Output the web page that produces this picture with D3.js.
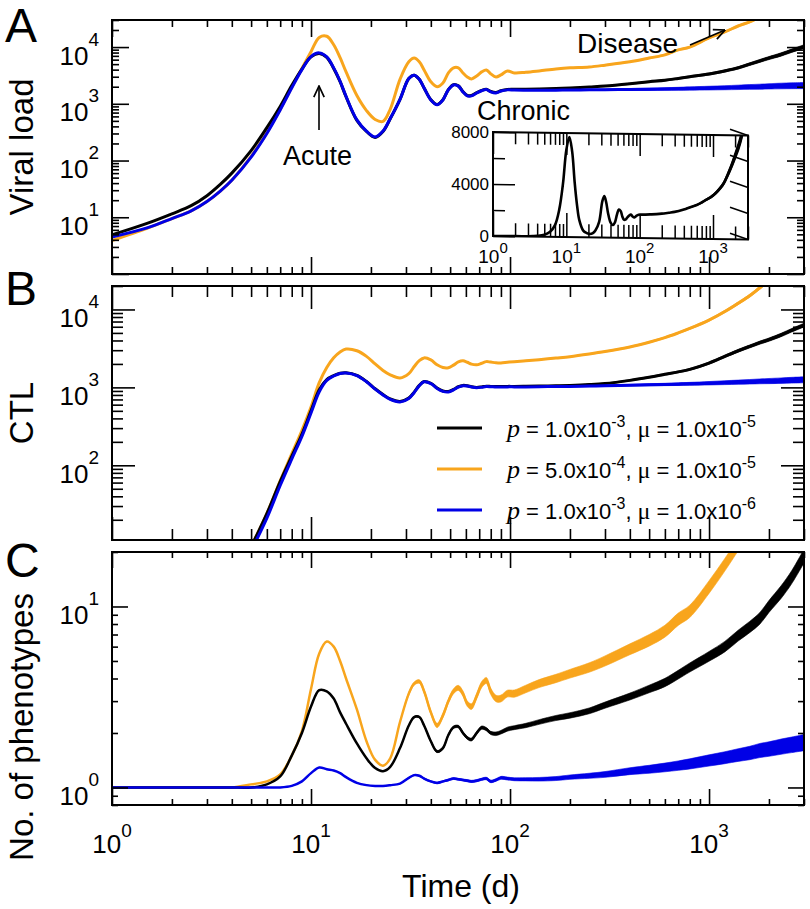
<!DOCTYPE html>
<html><head><meta charset="utf-8">
<script src="https://cdn.jsdelivr.net/npm/d3@7"></script>
<style>
body{margin:0;background:#fff;}
svg{display:block;font-family:"Liberation Sans",Arial,Helvetica,sans-serif;}
text{white-space:pre;}
</style></head><body>
<svg id="chart" width="810" height="909"></svg>
<script>
// ---------------- DATA ----------------
const time = [1,1.5,2,2.5,3,3.5,4,5,6,7,8,9,10,11,12,13,14,15,17,19,21,23,25,28,31,33,35,37,40,43,46,49,52,55,58,61,64,68,72,76,80,85,90,97,105,120,140,170,200,250,300,400,500,600,700,800,1000,1200,1400,1600,1800,2000,2300,2600,3000];

// Panel A: viral load
const viralBlack  = [4.9,7.8,11.5,16,24,38,60,150,380,900,2100,4100,6700,7700,6600,4200,2450,1330,510,325,255,325,545,1200,2800,3200,2700,1900,1180,970,1180,1780,2170,2070,1640,1400,1400,1570,1720,1800,1650,1580,1700,1790,1800,1810,1830,1860,1900,1980,2050,2250,2450,2600,2800,3000,3350,3800,4300,5000,5700,6400,7400,8600,10200];
const viralOrange = [3.9,6.4,9.5,13,19,29,45,118,310,800,1950,4200,8300,14800,15500,11000,6500,3650,1400,760,530,490,800,2700,5500,6400,5500,3950,2450,2000,2330,3500,4300,4300,3500,2970,2750,3100,3650,3950,3370,2970,3230,3800,3500,3600,3800,4100,4300,4460,4800,5500,6400,7300,8900,10000,14500,18500,23500,27800,34000,null,null,null,null];
const viralBlue   = [4.5,6.5,9.5,13,19,29,45,115,300,780,1900,4000,6800,7900,6700,4300,2500,1350,520,330,260,330,550,1200,2800,3200,2700,1900,1170,960,1170,1770,2150,2050,1620,1380,1380,1550,1700,1780,1620,1550,1680,1760,1750,1740,1740,1740,1750,1760,1770,1790,1800,1820,1840,1860,1890,1920,1950,1980,2000,2030,2060,2080,2100];

// Panel B: CTL
const ctlBlack  = [null,null,null,null,null,null,null,9,24,62,130,250,500,930,1260,1420,1520,1540,1430,1190,960,810,710,660,730,870,1060,1190,1130,980,900,885,940,1020,1060,1050,1020,1000,1015,1035,1030,1025,1025,1030,1030,1035,1040,1050,1060,1085,1120,1230,1350,1470,1580,1700,2050,2500,2950,3350,3750,4100,4700,5400,6300];
const ctlOrange = [null,null,null,null,null,null,null,9,24,63,140,280,560,1150,1800,2400,2850,3100,2950,2500,2000,1650,1450,1320,1500,1850,2200,2390,2250,1950,1800,1790,1930,2120,2190,2100,1990,1950,2040,2140,2110,2070,2060,2100,2140,2200,2270,2380,2480,2680,2880,3300,3800,4350,5000,5700,7300,9400,12000,15000,19000,23500,null,null,null];
const ctlBlue   = [null,null,null,null,null,null,null,8,21,55,120,235,470,880,1230,1400,1510,1530,1420,1180,950,800,700,650,720,860,1050,1180,1120,970,890,875,930,1010,1050,1040,1010,990,1005,1025,1020,1010,1010,1015,1015,1015,1020,1025,1030,1040,1050,1065,1080,1090,1100,1110,1130,1150,1165,1180,1195,1205,1220,1235,1250];

// Panel C: number of phenotypes
const phenoBlack  = [1,1,1,1,1,1,1,1,1.04,1.15,1.5,2.0,2.8,3.45,3.4,3.1,2.6,2.25,1.75,1.45,1.28,1.23,1.3,1.65,2.2,2.45,2.45,2.2,1.8,1.58,1.65,1.95,2.15,2.17,2.0,1.88,1.84,2.0,2.14,2.1,2.0,1.98,2.02,2.1,2.14,2.2,2.3,2.42,2.5,2.65,2.85,3.18,3.5,3.8,4.2,4.6,5.3,6.0,6.9,7.7,8.6,10.0,12.0,14.5,19.0];
const phenoOrange = [1,1,1,1,1,1,1,1.04,1.08,1.18,1.5,2.05,3.5,5.5,6.4,6.0,5.0,4.0,2.7,1.8,1.42,1.32,1.45,2.3,3.3,3.75,3.85,3.4,2.6,2.2,2.5,3.0,3.4,3.55,3.3,2.9,2.8,3.2,3.7,3.9,3.4,3.1,3.1,3.3,3.3,3.5,3.75,4.0,4.25,4.6,5.0,5.8,6.5,7.3,8.5,9.4,12.8,17.0,22.0,null,null,null,null,null,null];
const phenoBlue   = [1,1,1,1,1,1,1,1,1,1,1.02,1.08,1.2,1.29,1.26,1.24,1.2,1.14,1.06,1.03,1.02,1.02,1.03,1.05,1.13,1.17,1.16,1.12,1.08,1.06,1.08,1.1,1.12,1.11,1.1,1.09,1.08,1.09,1.11,1.12,1.08,1.1,1.13,1.12,1.11,1.11,1.11,1.12,1.14,1.16,1.18,1.23,1.26,1.29,1.32,1.35,1.41,1.46,1.51,1.55,1.6,1.63,1.68,1.72,1.77];

// Stochastic spread (half-width of the noisy band, in 1/1000 decades)
const z = n => new Array(n).fill(0);
const spreadViralBlack  = z(43).concat([3,4,4,5,5,6,7,8,10,12,13,14,15,18,20,22,24,26,27,29,30,32]);
const spreadViralOrange = z(43).concat([3,4,4,5,5,6,7,8,9,10,11,12,13,14,15,16,17,18,0,0,0,0]);
const spreadViralBlue   = z(43).concat([5,6,7,8,9,10,12,14,17,20,23,26,29,33,36,39,42,45,47,50,52,55]);
const spreadCtlBlack    = z(43).concat([3,3,4,4,5,5,6,7,8,9,10,11,12,14,16,18,19,20,21,22,23,24]);
const spreadCtlOrange   = z(43).concat([3,3,4,4,5,5,6,7,8,9,10,11,12,14,16,18,19,20,21,0,0,0]);
const spreadCtlBlue     = z(43).concat([4,4,5,5,6,7,8,9,11,13,15,17,19,22,25,27,29,31,33,35,37,38]);
const spreadPhenoBlack  = z(24).concat([4,4,5,5,5,6,6,6,7,7,7,8,8,8,9,9,9,10,10,11,11,12,13,14,15,16,17,19,21,23,24,25,27,29,30,31,32,33,35,36,38]);
const spreadPhenoOrange = z(24).concat([8,9,10,11,11,12,13,13,14,14,15,15,16,16,17,17,18,18,19,19,20,21,22,23,24,26,28,30,32,33,34,34,35,35,35,0,0,0,0,0,0]);
const spreadPhenoBlue   = z(24).concat([3,3,3,4,4,4,4,5,5,5,5,6,6,6,6,7,7,7,8,8,8,9,10,11,12,14,16,19,22,24,26,28,31,33,35,37,39,40,42,43,45]);

const xTickLabels = [1,10,100,1000];
const insetYTicks = [0,2000,4000,6000,8000];
const insetYLabels = [0,4000,8000];
const legendP     = ["1.0x10","5.0x10","1.0x10"];
const legendPExp  = ["-3","-4","-3"];
const legendMu    = ["1.0x10","1.0x10","1.0x10"];
const legendMuExp = ["-5","-5","-6"];
const COLORS = {black:"#000000", orange:"#f8a51d", blue:"#0000e6"};

// ---------------- DRAW ----------------
const svg = d3.select("#chart");
const L = 112, R = 804;
const x = d3.scaleLog().domain([1,3000]).range([L,R]);
const CURVE = d3.curveCatmullRom.alpha(0.5);

function majorTicks(d){const a=[];for(let e=-3;e<=6;e++){const v=Math.pow(10,e);if(v>=d[0]*0.9999&&v<=d[1]*1.0001)a.push(v);}return a;}
function minorTicks(d){const a=[];for(let e=-3;e<=6;e++)for(let m=2;m<=9;m++){const v=m*Math.pow(10,e);if(v>=d[0]*0.9999&&v<=d[1]*1.0001)a.push(v);}return a;}

const defs = svg.append("defs");
defs.append("marker").attr("id","arrow").attr("viewBox","0 0 10 10").attr("refX",9.5).attr("refY",5)
  .attr("markerWidth",13).attr("markerHeight",13).attr("markerUnits","userSpaceOnUse").attr("orient","auto")
  .append("path").attr("d","M1,1 L9.5,5 L1,9").attr("fill","none").attr("stroke","#000").attr("stroke-width",1.3);

const panels = [
  {id:"A", top:20, bottom:274, domain:[1,30000], labels:[10,100,1000,10000], title:"Viral load", titleY:147, letterY:42, major:17, minor:7, lw:3,
   series:[{v:viralOrange,s:spreadViralOrange,c:COLORS.orange},{v:viralBlack,s:spreadViralBlack,c:COLORS.black},{v:viralBlue,s:spreadViralBlue,c:COLORS.blue}]},
  {id:"B", top:286, bottom:540, domain:[11,20000], labels:[100,1000,10000], title:"CTL", titleY:413, letterY:305, major:23, minor:11, lw:3,
   series:[{v:ctlOrange,s:spreadCtlOrange,c:COLORS.orange},{v:ctlBlack,s:spreadCtlBlack,c:COLORS.black},{v:ctlBlue,s:spreadCtlBlue,c:COLORS.blue}]},
  {id:"C", top:552, bottom:805, domain:[0.8,20], labels:[1,10], title:"No. of phenotypes", titleY:727, letterY:577, major:16, minor:6, lw:2.5,
   series:[{v:phenoOrange,s:spreadPhenoOrange,c:COLORS.orange},{v:phenoBlack,s:spreadPhenoBlack,c:COLORS.black},{v:phenoBlue,s:spreadPhenoBlue,c:COLORS.blue}]}
];

const xMajor = majorTicks(x.domain()), xMinor = minorTicks(x.domain());

panels.forEach(p=>{
  const y = d3.scaleLog().domain(p.domain).range([p.bottom,p.top]);
  const g = svg.append("g");
  defs.append("clipPath").attr("id","clip"+p.id).append("rect")
    .attr("x",L).attr("y",p.top).attr("width",R-L).attr("height",p.bottom-p.top);
  const plot = g.append("g").attr("clip-path",`url(#clip${p.id})`);
  p.series.forEach(s=>{
    const pts = time.map((t,i)=>({t, v:s.v[i], n:s.s[i]||0})).filter(d=>d.v!=null);
    const area = d3.area().x(d=>x(d.t)).y0(d=>y(d.v*Math.pow(10,-d.n/1000))).y1(d=>y(d.v*Math.pow(10,d.n/1000))).curve(CURVE);
    plot.append("path").attr("d",area(pts)).attr("fill",s.c).attr("stroke",s.c).attr("stroke-width",0.6);
    const line = d3.line().x(d=>x(d.t)).y(d=>y(d.v)).curve(CURVE);
    plot.append("path").attr("d",line(pts)).attr("fill","none").attr("stroke",s.c)
      .attr("stroke-width",p.lw).attr("stroke-linejoin","round").attr("stroke-linecap","round");
  });
  const yMajor = majorTicks(p.domain), yMinor = minorTicks(p.domain);
  const axes = [
    [d3.axisBottom(x), xMajor, p.major, `translate(0,${p.bottom})`],
    [d3.axisBottom(x), xMinor, p.minor, `translate(0,${p.bottom})`],
    [d3.axisTop(x), xMajor, p.major, `translate(0,${p.top})`],
    [d3.axisTop(x), xMinor, p.minor, `translate(0,${p.top})`],
    [d3.axisLeft(y), yMajor, p.major, `translate(${L},0)`],
    [d3.axisLeft(y), yMinor, p.minor, `translate(${L},0)`],
    [d3.axisRight(y), yMajor, p.major, `translate(${R},0)`],
    [d3.axisRight(y), yMinor, p.minor, `translate(${R},0)`]
  ];
  axes.forEach(([ax,vals,size,tr])=>{
    const a = g.append("g").attr("transform",tr).call(ax.tickValues(vals).tickSize(-size).tickFormat(""));
    a.select(".domain").remove();
    a.selectAll("line").attr("stroke","#000").attr("stroke-width",1.6);
  });
  g.append("rect").attr("x",L).attr("y",p.top).attr("width",R-L).attr("height",p.bottom-p.top)
    .attr("fill","none").attr("stroke","#000").attr("stroke-width",2);
  p.labels.forEach(v=>{
    const t = g.append("text").attr("x",99).attr("y",y(v)+17.5).attr("text-anchor","end").attr("font-size",26);
    t.append("tspan").text("10");
    t.append("tspan").attr("font-size",19).attr("dy",-19).text(String(Math.round(Math.log10(v))));
  });
  g.append("text").attr("transform",`translate(33,${p.titleY}) rotate(-90)`).attr("text-anchor","middle")
    .attr("font-size",33).text(p.title);
  g.append("text").attr("x",5).attr("y",p.letterY).attr("font-size",48).text(p.id);
});

xTickLabels.forEach(v=>{
  const t = svg.append("text").attr("x",x(v)).attr("y",853).attr("text-anchor","middle").attr("font-size",26);
  t.append("tspan").text("10");
  t.append("tspan").attr("font-size",19).attr("dy",-16).text(String(Math.round(Math.log10(v))));
});
svg.append("text").attr("x",461).attr("y",897).attr("text-anchor","middle").attr("font-size",32).text("Time (d)");

// ---------------- INSET ----------------
const ix = d3.scaleLog().domain([1,3000]).range([493,748]);
const iy = d3.scaleLinear().domain([0,8000]).range([236,132]);
const ig = svg.append("g").attr("transform","translate(493,132) skewY(0.8) translate(-493,-132)");
ig.append("rect").attr("x",493).attr("y",132).attr("width",255).attr("height",104).attr("fill","#fff");
defs.append("clipPath").attr("id","clipI").append("rect").attr("x",493).attr("y",132).attr("width",255).attr("height",104);
const inPts = time.map((t,i)=>({t,v:viralBlack[i],n:spreadViralBlack[i]}));
ig.append("g").attr("clip-path","url(#clipI)").append("path")
  .attr("d", d3.area().x(d=>ix(d.t)).y0(d=>iy(d.v*Math.pow(10,-d.n/1000))).y1(d=>iy(d.v*Math.pow(10,d.n/1000))).curve(CURVE)(inPts))
  .attr("fill","#000");
ig.append("g").attr("clip-path","url(#clipI)").append("path")
  .attr("d", d3.line().x(d=>ix(d.t)).y(d=>iy(d.v)).curve(CURVE)(inPts))
  .attr("fill","none").attr("stroke","#000").attr("stroke-width",2.6).attr("stroke-linejoin","round");
const ixMajor = majorTicks(ix.domain()), ixMinor = minorTicks(ix.domain());
[
  [d3.axisBottom(ix), ixMajor, 24, "translate(0,236)"],
  [d3.axisBottom(ix), ixMinor, 13, "translate(0,236)"],
  [d3.axisTop(ix), ixMajor, 22, "translate(0,132)"],
  [d3.axisTop(ix), ixMinor, 12, "translate(0,132)"],
  [d3.axisLeft(iy), [0,4000,8000], 22, "translate(493,0)"],
  [d3.axisLeft(iy), [2000,6000], 12, "translate(493,0)"]
].forEach(([ax,vals,size,tr])=>{
  const a = ig.append("g").attr("transform",tr).call(ax.tickValues(vals).tickSize(-size).tickFormat(""));
  a.select(".domain").remove();
  a.selectAll("line").attr("stroke","#000").attr("stroke-width",1.5);
});
ig.selectAll("line.rt").data(insetYTicks).join("line").attr("class","rt")
  .attr("x1",748).attr("y1",d=>iy(d)).attr("x2",730).attr("y2",d=>iy(d)-6)
  .attr("stroke","#000").attr("stroke-width",1.5);
ig.append("rect").attr("x",493).attr("y",132).attr("width",255).attr("height",104)
  .attr("fill","none").attr("stroke","#000").attr("stroke-width",2);
insetYLabels.forEach(v=>{
  svg.append("text").attr("x",489).attr("y",iy(v)+6).attr("text-anchor","end").attr("font-size",17).text(String(v));
});
xTickLabels.forEach(v=>{
  const t = svg.append("text").attr("x",ix(v)).attr("y",263).attr("text-anchor","middle").attr("font-size",19);
  t.append("tspan").text("10");
  t.append("tspan").attr("font-size",15).attr("dy",-10).text(String(Math.round(Math.log10(v))));
});

// ---------------- ANNOTATIONS ----------------
svg.append("text").attr("x",283).attr("y",165).attr("font-size",27).text("Acute");
svg.append("line").attr("x1",319).attr("y1",130).attr("x2",319).attr("y2",86)
  .attr("stroke","#000").attr("stroke-width",1.6).attr("marker-end","url(#arrow)");
svg.append("text").attr("x",477).attr("y",120).attr("font-size",27).text("Chronic");
svg.append("text").attr("x",577).attr("y",53).attr("font-size",28).text("Disease");
svg.append("line").attr("x1",690).attr("y1",45).attr("x2",725).attr("y2",30)
  .attr("stroke","#000").attr("stroke-width",1.6).attr("marker-end","url(#arrow)");

// ---------------- LEGEND ----------------
const legendColors = [COLORS.black, COLORS.orange, COLORS.blue];
legendColors.forEach((c,i)=>{
  const yy = 428 + i*41;
  svg.append("line").attr("x1",437).attr("x2",482).attr("y1",yy).attr("y2",yy).attr("stroke",c).attr("stroke-width",3);
  const t = svg.append("text").attr("x",507).attr("y",yy+9).attr("font-size",22);
  t.append("tspan").attr("font-family","'Liberation Serif',serif").attr("font-style","italic").attr("font-size",26).text("p");
  t.append("tspan").text(" = "+legendP[i]);
  t.append("tspan").attr("font-size",16).attr("dy",-10).text(legendPExp[i]);
  t.append("tspan").attr("dy",10).text(", ");
  t.append("tspan").attr("font-family","'Liberation Serif',serif").attr("font-size",24).text("\u03bc");
  t.append("tspan").text(" = "+legendMu[i]);
  t.append("tspan").attr("font-size",16).attr("dy",-10).text(legendMuExp[i]);
});
</script>
</body></html>
